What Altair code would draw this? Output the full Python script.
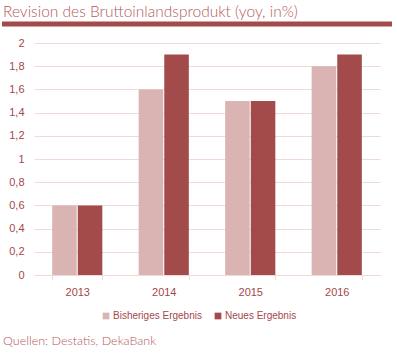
import altair as alt
import pandas as pd

years = ["2013", "2014", "2015", "2016"]
bisheriges = [0.6, 1.6, 1.5, 1.8]
neues = [0.6, 1.9, 1.5, 1.9]
series_names = ["Bisheriges Ergebnis", "Neues Ergebnis"]
colors = ["#D9B4B3", "#A34B4B"]
title_text = "Revision des Bruttoinlandsprodukt (yoy, in%)"
source_text = "Quellen: Destatis, DekaBank"

rows = []
for y, a, b in zip(years, bisheriges, neues):
    rows.append({"Jahr": y, "Serie": series_names[0], "Wert": a})
    rows.append({"Jahr": y, "Serie": series_names[1], "Wert": b})
df = pd.DataFrame(rows)

label_col = "#A3474B"
title_col = "#B5585A"
grid_col = "#EFD9D9"

bars = alt.Chart(df).mark_bar().encode(
    x=alt.X("Jahr:N", sort=years, title=None,
            scale=alt.Scale(paddingInner=0.42, paddingOuter=0.21),
            axis=alt.Axis(labelAngle=0, labelColor=label_col, labelFontSize=11,
                          labelFont="Liberation Sans", domainColor=grid_col,
                          tickColor=grid_col, tickBand="extent", tickSize=5,
                          labelPadding=6, grid=False)),
    xOffset=alt.XOffset("Serie:N", sort=series_names,
                        scale=alt.Scale(paddingInner=0.04)),
    y=alt.Y("Wert:Q", title=None,
            scale=alt.Scale(domain=[0, 2]),
            axis=alt.Axis(values=[0, 0.2, 0.4, 0.6, 0.8, 1, 1.2, 1.4, 1.6, 1.8, 2],
                          labelExpr="replace(format(datum.value, '.1~f'), '.', ',')",
                          labelColor=label_col, labelFontSize=11,
                          labelFont="Liberation Sans", domain=False, ticks=False,
                          labelPadding=10, gridColor=grid_col, gridWidth=1.2)),
    color=alt.Color("Serie:N", sort=series_names,
                    scale=alt.Scale(domain=series_names, range=colors),
                    legend=alt.Legend(title=None, orient="none", legendX=67, legendY=268,
                                      direction="horizontal", symbolType="square",
                                      symbolSize=45, symbolStrokeWidth=0,
                                      labelColor=label_col, labelFontSize=10,
                                      labelFont="Liberation Sans", columnPadding=11,
                                      symbolOffset=0, labelOffset=2)),
)

rule = alt.Chart(pd.DataFrame({"a": [0]})).mark_rule(
    color="#A34B4B", strokeWidth=5, clip=False
).encode(x=alt.value(-32), x2=alt.value(358), y=alt.value(-19))

ttl = alt.Chart(pd.DataFrame({"t": [title_text]})).mark_text(
    align="left", baseline="middle", color=title_col, fontSize=15.5,
    font="Lato", fontWeight=300, clip=False
).encode(text="t:N", x=alt.value(-31), y=alt.value(-31))

src = alt.Chart(pd.DataFrame({"t": [source_text]})).mark_text(
    align="left", baseline="middle", color=title_col, fontSize=12.5,
    font="Lato", fontWeight=300, clip=False
).encode(text="t:N", x=alt.value(-31), y=alt.value(298))

chart = alt.layer(bars, rule, ttl, src).properties(
    width=346, height=232,
    padding={"left": 34, "top": 43, "right": 17, "bottom": 79},
    autosize=alt.AutoSizeParams(type="none"),
).configure_view(stroke=None)

chart.save("out.html", embed_options={"renderer": "svg", "actions": False})
